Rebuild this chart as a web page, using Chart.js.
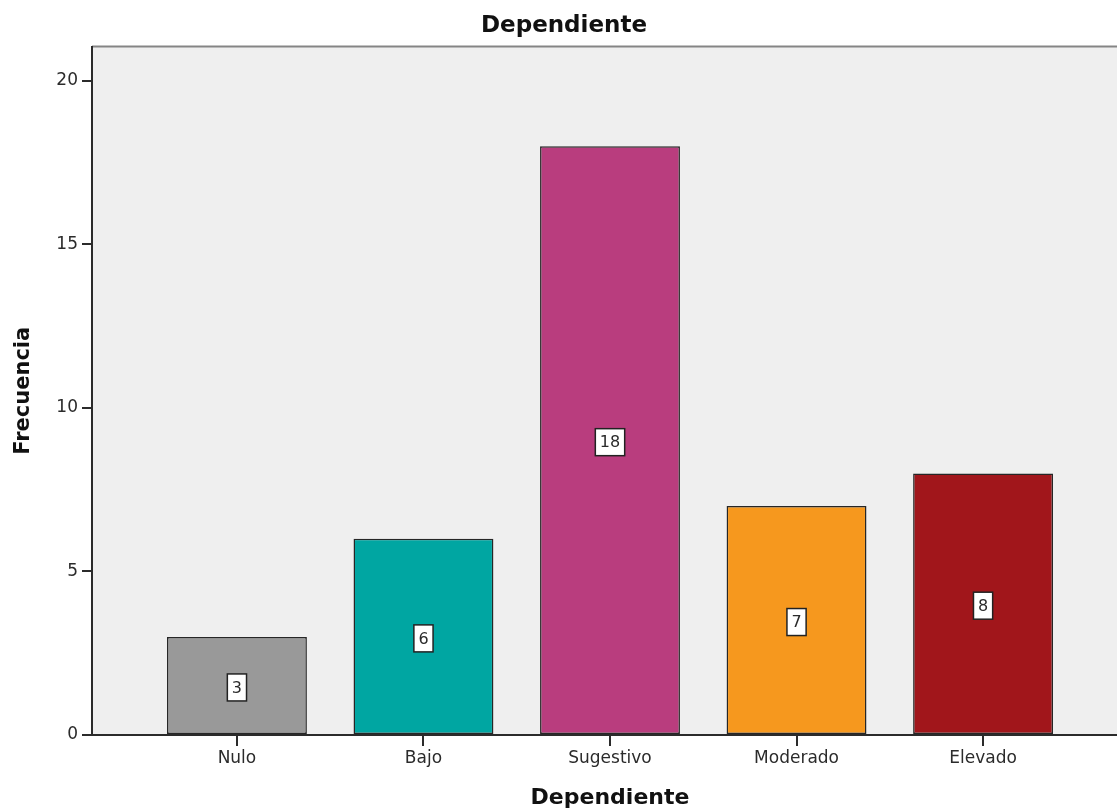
<!DOCTYPE html>
<html lang="es">
<head>
<meta charset="utf-8">
<title>Dependiente</title>
<script src="https://cdn.jsdelivr.net/npm/chart.js@4/dist/chart.umd.min.js"></script>
<style>
    html, body { margin: 0; padding: 0; background: #fff; overflow: hidden; }
    /* the plot runs a little past the right edge of the window */
    #wrap { width: 1128px; height: 811px; }
</style>
</head>
<body>
<div id="wrap"><canvas id="chart"></canvas></div>
<script>
// Frecuencias por nivel de dependencia
const CATEGORIES = ["Nulo", "Bajo", "Sugestivo", "Moderado", "Elevado"];
const FREQUENCIES = [3, 6, 18, 7, 8];
const BAR_COLORS = ["#999999", "#00a6a2", "#b93d7e", "#f6981e", "#a1161b"];
const Y_TICKS = [0, 5, 10, 15, 20];

const FONT = "'DejaVu Sans', Verdana, sans-serif";
const INK = "#2b2b2b";

// Grey plot background plus the thin frame line along the top.
const plotFrame = {
    id: "plotFrame",
    beforeDraw(chart) {
        const { ctx, chartArea: a } = chart;
        ctx.save();
        ctx.fillStyle = "#efefef";
        ctx.fillRect(a.left, a.top, a.right - a.left, a.bottom - a.top);
        ctx.strokeStyle = "#858585";
        ctx.lineWidth = 2;
        ctx.beginPath();
        ctx.moveTo(a.left, a.top);
        ctx.lineTo(a.right, a.top);
        ctx.stroke();
        ctx.restore();
    },
};

// Boxed value label in the middle of each bar.
const barValues = {
    id: "barValues",
    afterDatasetsDraw(chart) {
        const { ctx } = chart;
        const meta = chart.getDatasetMeta(0);
        ctx.save();
        ctx.font = "16px " + FONT;
        ctx.textAlign = "center";
        ctx.textBaseline = "middle";
        meta.data.forEach((bar, i) => {
            const text = String(FREQUENCIES[i]);
            const w = ctx.measureText(text).width + 9;
            const h = 27;
            const cx = bar.x;
            const cy = (bar.y + bar.base) / 2 + 2;
            ctx.fillStyle = "#ffffff";
            ctx.fillRect(cx - w / 2, cy - h / 2, w, h);
            ctx.strokeStyle = "#222";
            ctx.lineWidth = 1.5;
            ctx.strokeRect(cx - w / 2, cy - h / 2, w, h);
            ctx.fillStyle = INK;
            ctx.fillText(text, cx, cy + 1);
        });
        ctx.restore();
    },
};

// Bars sit on a linear index axis so the side margins can be wider than
// the gap between bars.
const points = CATEGORIES.map((_, i) => ({ x: i + 1, y: FREQUENCIES[i] }));

new Chart(document.getElementById("chart"), {
    type: "bar",
    data: {
        datasets: [{
            data: points,
            backgroundColor: BAR_COLORS,
            borderColor: "#262626",
            borderWidth: 1.5,
            borderSkipped: false,
            categoryPercentage: 1,
            barPercentage: 0.75,
        }],
    },
    options: {
        responsive: true,
        maintainAspectRatio: false,
        animation: false,
        layout: { padding: 0 },
        plugins: {
            legend: { display: false },
            tooltip: { enabled: false },
            title: {
                display: true,
                text: "Dependiente",
                color: "#111",
                font: { family: FONT, size: 23, weight: "bold" },
                padding: { top: 12, bottom: 7 },
            },
        },
        scales: {
            x: {
                type: "linear",
                min: 0.223,
                max: 5.777,
                offset: false,
                bounds: "data",
                afterBuildTicks: (axis) => {
                    axis.ticks = CATEGORIES.map((_, i) => ({ value: i + 1 }));
                },
                afterFit: (axis) => { axis.height = 76; },
                border: { display: true, color: INK, width: 2 },
                grid: { offset: false, drawOnChartArea: false, drawTicks: true, tickLength: 11, color: INK, lineWidth: 2 },
                ticks: {
                    color: INK,
                    padding: 2,
                    font: { family: FONT, size: 17 },
                    callback: (v) => CATEGORIES[v - 1] ?? "",
                },
                title: {
                    display: true,
                    text: "Dependiente",
                    color: "#111",
                    font: { family: FONT, size: 22, weight: "bold" },
                    padding: { top: 4, bottom: 0 },
                },
            },
            y: {
                min: 0,
                max: 21.05,
                afterBuildTicks: (axis) => {
                    axis.ticks = Y_TICKS.map((v) => ({ value: v }));
                },
                afterFit: (axis) => { axis.width = 92; },
                border: { display: true, color: INK, width: 2 },
                grid: { drawOnChartArea: false, drawTicks: true, tickLength: 10, color: INK, lineWidth: 2 },
                ticks: {
                    color: INK,
                    padding: 4,
                    font: { family: FONT, size: 17 },
                },
                title: {
                    display: true,
                    text: "Frecuencia",
                    color: "#111",
                    font: { family: FONT, size: 21, weight: "bold" },
                    padding: { top: 11, bottom: 4 },
                },
            },
        },
    },
    plugins: [plotFrame, barValues],
});
</script>
</body>
</html>
